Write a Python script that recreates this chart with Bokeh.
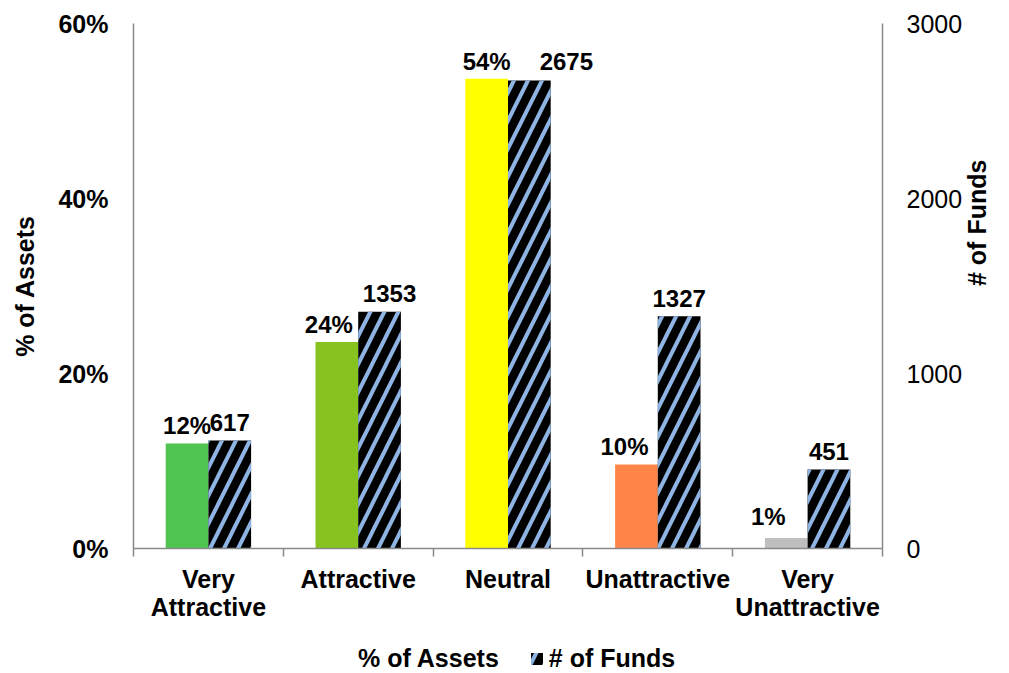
import math
from bokeh.plotting import figure
from bokeh.layouts import column
from bokeh.models import (Range1d, LinearAxis, FixedTicker, NumeralTickFormatter,
                          Legend, LegendItem, ColumnDataSource)
from bokeh.core.properties import value
from bokeh.embed import file_html
from bokeh.resources import INLINE

# ---- data ----
categories = ["Very\nAttractive", "Attractive", "Neutral", "Unattractive", "Very\nUnattractive"]
pct_assets = [0.12, 0.236, 0.537, 0.096, 0.012]
num_funds = [617, 1353, 2675, 1327, 451]
bar_colors = ["#4FC54F", "#86C31F", "#FFFF00", "#FF8548", "#BFBFBF"]
pct_ticks = [0, 0.2, 0.4, 0.6]
fund_ticks = [0, 1000, 2000, 3000]
series_names = ["% of Assets", "# of Funds"]

# ---- styling / label nudges (screen pixels) ----
FONT = value("Liberation Sans")
BAR_W = 0.285
AXIS_COLOR = "#898989"
HATCH_BLUE = "#8DB4E3"
pct_label_dx = [0, -8, 0, -12, -18]
pct_label_dy = [-18, -18, -17, -18, -22]
fund_label_dx = [0, 10, 37, 0, 0]
fund_label_dy = [-18, -18, -19, -18, -18]

n = len(categories)
centers = [i + 0.5 for i in range(n)]
src = ColumnDataSource(dict(
    x_pct=[c - BAR_W / 2 for c in centers],
    x_fund=[c + BAR_W / 2 for c in centers],
    pct=pct_assets,
    funds=num_funds,
    color=bar_colors,
    pct_label=[f"{v * 100:.0f}%" for v in pct_assets],
    fund_label=[str(v) for v in num_funds],
    pdx=pct_label_dx, pdy=pct_label_dy, fdx=fund_label_dx, fdy=fund_label_dy,
))

W = 1008
p = figure(width=W, height=640, x_range=Range1d(0, n), y_range=Range1d(0, 0.6),
           output_backend="svg", toolbar_location=None,
           min_border_left=133, min_border_right=120, min_border_top=23, min_border_bottom=92)
p.outline_line_color = None
p.xgrid.grid_line_color = None
p.ygrid.grid_line_color = None
p.background_fill_color = "white"
p.border_fill_color = "white"

p.extra_y_ranges = {"funds": Range1d(0, 3000)}

# bars
p.vbar(x="x_pct", top="pct", width=BAR_W, source=src, fill_color="color", line_color=None)
p.vbar(x="x_fund", top="funds", width=BAR_W, source=src, y_range_name="funds",
       fill_color="black", line_color=None, hatch_pattern="/",
       hatch_color=HATCH_BLUE, hatch_scale=28, hatch_weight=4)

# value labels
p.text(x="x_pct", y="pct", text="pct_label", source=src, text_align="center",
       text_baseline="alphabetic", x_offset="pdx", y_offset="pdy", text_font=FONT,
       text_font_style="bold", text_font_size="24px", text_color="black")
p.text(x="x_fund", y="funds", text="fund_label", source=src, y_range_name="funds",
       text_align="center", text_baseline="alphabetic", x_offset="fdx", y_offset="fdy",
       text_font=FONT, text_font_style="bold", text_font_size="24px", text_color="black")

# x axis
xa = p.xaxis[0]
xa.ticker = FixedTicker(ticks=centers, minor_ticks=list(range(n + 1)))
xa.major_label_overrides = {c: lab for c, lab in zip(centers, categories)}
xa.major_tick_out = 0
xa.major_tick_in = 0
xa.minor_tick_out = 8
xa.minor_tick_in = 0
xa.minor_tick_line_color = AXIS_COLOR
xa.minor_tick_line_width = 1.5
xa.axis_line_color = AXIS_COLOR
xa.axis_line_width = 1.5
xa.major_label_standoff = 8
xa.major_label_text_font = "Liberation Sans"
xa.major_label_text_font_style = "bold"
xa.major_label_text_font_size = "25px"
xa.major_label_text_line_height = 1.0
xa.major_label_text_color = "black"

# left axis
ya = p.yaxis[0]
ya.ticker = FixedTicker(ticks=pct_ticks)
ya.formatter = NumeralTickFormatter(format="0%")
ya.major_tick_out = 0
ya.major_tick_in = 0
ya.minor_tick_line_color = None
ya.axis_line_color = AXIS_COLOR
ya.axis_line_width = 1.5
ya.major_label_standoff = 25
ya.major_label_text_font = "Liberation Sans"
ya.major_label_text_font_style = "bold"
ya.major_label_text_font_size = "25px"
ya.major_label_text_color = "black"
ya.axis_label = series_names[0]
ya.axis_label_standoff = 16
ya.axis_label_text_font = "Liberation Sans"
ya.axis_label_text_font_style = "bold"
ya.axis_label_text_font_size = "25px"
ya.axis_label_text_color = "black"

# right axis
ra = LinearAxis(y_range_name="funds", ticker=FixedTicker(ticks=fund_ticks),
                axis_label=series_names[1])
ra.major_tick_out = 0
ra.major_tick_in = 0
ra.minor_tick_line_color = None
ra.axis_line_color = AXIS_COLOR
ra.axis_line_width = 1.5
ra.major_label_standoff = 24
ra.major_label_text_font = "Liberation Sans"
ra.major_label_text_font_style = "normal"
ra.major_label_text_font_size = "25px"
ra.major_label_text_color = "black"
ra.axis_label_standoff = 12
ra.axis_label_text_font = "Liberation Sans"
ra.axis_label_text_font_style = "bold"
ra.axis_label_text_font_size = "25px"
ra.axis_label_text_color = "black"
ra.axis_label_orientation = math.pi / 2
p.add_layout(ra, "right")

# ---- legend strip below the chart (proxy swatches have zero height) ----
lf = figure(width=W, height=33, x_range=Range1d(0, 1), y_range=Range1d(0, 1),
            output_backend="svg", toolbar_location=None, x_axis_type=None, y_axis_type=None,
            min_border=0)
lf.outline_line_color = None
lf.xgrid.grid_line_color = None
lf.ygrid.grid_line_color = None
lf.background_fill_color = "white"
lf.border_fill_color = "white"
proxy = ColumnDataSource(dict(x=[0.5], top=[0]))
sw_assets = lf.vbar(x="x", top="top", width=0.01, source=proxy, fill_alpha=0, line_alpha=0)
sw_funds = lf.vbar(x="x", top="top", width=0.01, source=proxy, fill_color="black",
                   line_color=None, hatch_pattern="/", hatch_color=HATCH_BLUE,
                   hatch_scale=28, hatch_weight=4)
legend = Legend(items=[LegendItem(label=series_names[0], renderers=[sw_assets]),
                       LegendItem(label=series_names[1], renderers=[sw_funds])],
                orientation="horizontal", location=(205, 0),
                glyph_width=15, glyph_height=15, label_standoff=5, spacing=30,
                padding=0, margin=0, border_line_color=None, background_fill_alpha=0,
                label_text_font="Liberation Sans", label_text_font_style="bold",
                label_text_font_size="25px", label_text_color="black")
lf.add_layout(legend, "center")

open("out.html", "w").write(file_html(column(p, lf, spacing=0), INLINE))
